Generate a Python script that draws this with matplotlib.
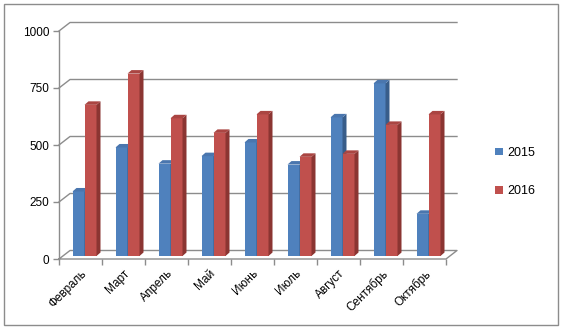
import matplotlib
matplotlib.use("Agg")
import matplotlib.pyplot as plt
from matplotlib.patches import Rectangle
import numpy as np

categories = ["Февраль", "Март", "Апрель", "Май", "Июнь", "Июль", "Август", "Сентябрь", "Октябрь"]
s2015 = [283, 476, 405, 438, 498, 401, 608, 757, 185]
s2016 = [663, 800, 604, 540, 621, 435, 448, 575, 621]
series_names = ["2015", "2016"]
yticks = [0, 250, 500, 750, 1000]

plt.rcParams['font.family'] = ['Liberation Sans', 'DejaVu Sans']

W, H = 562, 329
fig = plt.figure(figsize=(W / 100, H / 100), dpi=100)
fig.patch.set_facecolor("white")

# front plane of plot area in pixels
x0, x1 = 59, 446
ybot, ytop = 259, 31
ax = fig.add_axes([x0 / W, (H - ybot) / H, (x1 - x0) / W, (ybot - ytop) / H])
n = len(categories)
ax.set_xlim(-0.5, n - 0.5)
ax.set_ylim(0, 1000)
for s in ax.spines.values():
    s.set_visible(False)
ax.set_facecolor("none")

pxx = (n) / (x1 - x0)        # category units per pixel
pxy = 1000 / (ybot - ytop)   # value units per pixel

# depth of the back wall
dxf, dyf = 11 * pxx, 8.5 * pxy
grid_c = "#8c8c8c"

# gridlines on back wall with diagonals
for v in yticks[1:]:
    ax.plot([-0.5, -0.5 + dxf, n - 0.5 + dxf], [v, v + dyf, v + dyf],
            color=grid_c, lw=1.0, clip_on=False, zorder=0)
# floor
ax.plot([-0.5, n - 0.5, n - 0.5 + dxf, -0.5 + dxf, -0.5],
        [0, 0, dyf, dyf, 0], color=grid_c, lw=1.0, clip_on=False, zorder=0.5)
# vertical axis
ax.plot([-0.5, -0.5], [0, 1000], color=grid_c, lw=1.0, clip_on=False, zorder=0.5)

# bars
bw = 12 * pxx
shx, shy = 4 * pxx, 3 * pxy       # bar placement in depth
dx, dy = 4 * pxx, 3.5 * pxy       # bar own depth
cols = [("#4F81BD", "#385D8A", "#4A76AE"), ("#C0504D", "#8B3532", "#AA4542")]
xs = np.arange(n)
handles = []
for k, (vals, (cf, cs, ct)) in enumerate(zip([s2015, s2016], cols)):
    left = xs + shx - bw + k * bw
    b = ax.bar(left, vals, width=bw, bottom=shy, align="edge", color=cf,
               edgecolor="none", zorder=2 + k, label=series_names[k], clip_on=False)
    handles.append(b)
    for l, v in zip(left, vals):
        top = v + shy
        ax.fill([l + bw, l + bw + dx, l + bw + dx, l + bw],
                [shy, shy + dy, top + dy, top], color=cs, lw=0, zorder=2 + k, clip_on=False)
        ax.fill([l, l + bw, l + bw + dx, l + dx],
                [top, top, top + dy, top + dy], color=ct, lw=0, zorder=2 + k, clip_on=False)

# y ticks
ax.set_yticks(yticks)
ax.set_yticklabels([str(t) for t in yticks], fontsize=8.5, color="black")
ax.tick_params(axis="y", length=4, width=1, color=grid_c, pad=3)

# x ticks
ax.set_xticks(xs)
ax.set_xticklabels(categories, rotation=45, ha="right", va="top",
                   rotation_mode="anchor", fontsize=8.5)
ax.tick_params(axis="x", length=0, pad=6)
ax.set_xticks(np.arange(-0.5, n, 1), minor=True)
ax.tick_params(axis="x", which="minor", length=4, width=1, color=grid_c)

# legend
fig.legend(handles=handles, labels=series_names, loc="center left",
           bbox_to_anchor=(484 / W, 1 - 172 / H), frameon=False, fontsize=9,
           handlelength=0.6, handleheight=0.6, handletextpad=0.35, labelspacing=2.1)

# outer border
fig.patches.append(Rectangle((4 / W, 4 / H), 554 / W, 321 / H, transform=fig.transFigure,
                             fill=False, edgecolor="#8c8c8c", lw=1.0))

fig.savefig("out.png", dpi=100, facecolor="white")
